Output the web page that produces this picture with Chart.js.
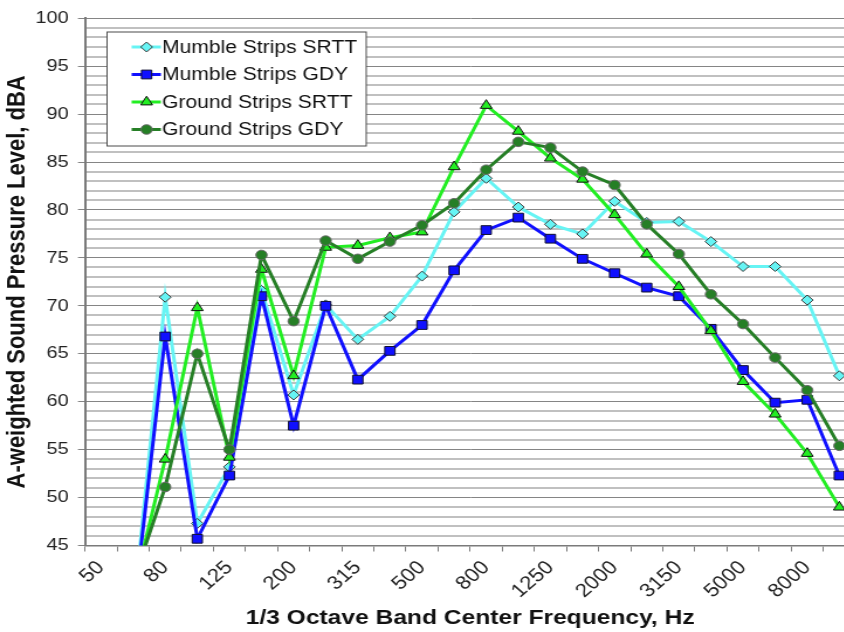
<!DOCTYPE html>
<html><head><meta charset="utf-8">
<script src="https://cdn.jsdelivr.net/npm/chart.js@4/dist/chart.umd.min.js"></script>
<style>
html,body{margin:0;padding:0;background:#fff;overflow:hidden;}
#wrap{width:844px;height:632px;overflow:hidden;position:relative;background:#fff;}
#c{display:block;transform:scaleX(1.17);transform-origin:0 0;}
</style></head><body>
<div id="wrap"><canvas id="c" width="740" height="632"></canvas></div>
<script>
// 1/3 octave band centre frequencies (Hz)
const frequencies = ['50','63','80','100','125','160','200','250','315','400','500','630','800','1000','1250','1600','2000','2500','3150','4000','5000','6300','8000','10000'];
// A-weighted sound pressure level, dBA
const mumbleSRTT = [null, 37.8, 70.9, 47.3, 53.2, 71.6, 60.7, 70.1, 66.5, 68.9, 73.1, 79.8, 83.3, 80.3, 78.5, 77.5, 80.9, 78.7, 78.8, 76.7, 74.1, 74.1, 70.6, 62.7];
const mumbleGDY  = [null, 37.7, 66.8, 45.7, 52.3, 71.0, 57.5, 70.0, 62.3, 65.3, 68.0, 73.7, 77.9, 79.2, 77.0, 74.9, 73.4, 71.9, 71.0, 67.6, 63.3, 59.9, 60.2, 52.3];
const groundSRTT = [null, 40.2, 54.0, 69.8, 54.2, 73.8, 62.7, 76.1, 76.3, 77.1, 77.7, 84.5, 90.9, 88.2, 85.4, 83.2, 79.5, 75.4, 72.0, 67.4, 62.1, 58.7, 54.6, 49.0];
const groundGDY  = [null, 41.2, 51.1, 65.0, 55.0, 75.3, 68.4, 76.8, 74.9, 76.7, 78.4, 80.7, 84.2, 87.1, 86.5, 84.0, 82.6, 78.5, 75.4, 71.2, 68.1, 64.6, 61.2, 55.4];
const seriesNames = ['Mumble Strips SRTT','Mumble Strips GDY','Ground Strips SRTT','Ground Strips GDY'];
const yMin = 45, yMax = 100, yMajor = 5;

const FONT = "'Liberation Sans', Arial, sans-serif";
const styles = [
  {line:'#66F4F4', fill:'#66F4F4', stroke:'#3a3a3a', point:'rectRot', r:5},
  {line:'#1010FF', fill:'#1010FF', stroke:'#101030', point:'rect', r:6.2},
  {line:'#22EE22', fill:'#22EE22', stroke:'#111111', point:'triangle', r:5.8},
  {line:'#267F26', fill:'#267F26', stroke:'#6a6a6a', point:'circle', r:4.8}
];
const seriesData = [mumbleSRTT, mumbleGDY, groundSRTT, groundGDY];

function drawMarker(ctx, st, x, y){
  const r = st.r;
  ctx.beginPath();
  if (st.point === 'rectRot'){
    ctx.moveTo(x - r, y); ctx.lineTo(x, y - r); ctx.lineTo(x + r, y); ctx.lineTo(x, y + r); ctx.closePath();
  } else if (st.point === 'rect'){
    const s = r * Math.SQRT1_2; ctx.rect(x - s, y - s, 2*s, 2*s);
  } else if (st.point === 'triangle'){
    ctx.moveTo(x, y - r); ctx.lineTo(x + 0.866*r, y + 0.5*r); ctx.lineTo(x - 0.866*r, y + 0.5*r); ctx.closePath();
  } else {
    ctx.arc(x, y, r, 0, Math.PI*2);
  }
  ctx.fillStyle = st.fill; ctx.fill();
  ctx.lineWidth = 1; ctx.strokeStyle = st.stroke; ctx.stroke();
}

const legendPlugin = {
  id: 'boxLegend',
  afterDraw(chart){
    const ctx = chart.ctx;
    ctx.save();
    const bx = 91.5, by = 32, bw = 221.5, bh = 114;
    ctx.fillStyle = '#fff';
    ctx.fillRect(bx, by, bw, bh);
    ctx.strokeStyle = '#4a4a4a'; ctx.lineWidth = 1;
    ctx.strokeRect(bx, by, bw, bh);
    const rows = [47, 74.5, 102, 129.5];
    ctx.font = '18px ' + FONT;
    ctx.textBaseline = 'middle'; ctx.textAlign = 'left';
    seriesNames.forEach((name, i) => {
      const st = styles[i], y = rows[i];
      ctx.beginPath(); ctx.moveTo(112.5, y); ctx.lineTo(137.5, y);
      ctx.strokeStyle = st.line; ctx.lineWidth = 3; ctx.stroke();
      drawMarker(ctx, st, 125.3, y);
      ctx.fillStyle = '#111';
      ctx.fillText(name, 138.5, y + 1);
    });
    ctx.restore();
  }
};

const datasets = seriesData.map((d, i) => ({
  label: seriesNames[i],
  data: d,
  borderColor: styles[i].line,
  backgroundColor: styles[i].fill,
  pointBackgroundColor: styles[i].fill,
  pointBorderColor: styles[i].stroke,
  pointBorderWidth: 1,
  pointStyle: styles[i].point,
  pointRadius: styles[i].r,
  borderWidth: 3,
  tension: 0,
  spanGaps: false,
  order: 4 - i,
  clip: {left: 0, top: 0, right: 20, bottom: 0}
}));

new Chart(document.getElementById('c'), {
  type: 'line',
  data: { labels: frequencies, datasets },
  plugins: [legendPlugin],
  options: {
    responsive: false,
    animation: false,
    events: [],
    layout: { padding: { top: 16, left: 0, right: 8.9, bottom: 0 } },
    plugins: { legend: { display: false }, tooltip: { enabled: false } },
    scales: {
      x: {
        type: 'category',
        offset: true,
        afterFit(scale){ scale.height = 86.5; },
        grid: { offset: true, drawOnChartArea: false, drawTicks: true, tickLength: 6, color: '#7a7a7a', lineWidth: 1 },
        border: { display: true, color: '#7a7a7a', width: 1.5 },
        ticks: {
          autoSkip: false, minRotation: 45, maxRotation: 45, padding: 5,
          color: '#222', font: { family: FONT, size: 19 },
          callback(v, i){ return i % 2 === 0 ? this.getLabelForValue(v) : ''; }
        },
        title: { display: true, text: '1/3 Octave Band Center Frequency, Hz', color: '#111',
                 font: { family: FONT, size: 21, weight: 'bold' }, padding: { top: 0, bottom: 1 } }
      },
      y: {
        min: yMin, max: yMax,
        afterFit(scale){ scale.width = 72.6; },
        grid: {
          color: c => (c.tick && c.tick.value % yMajor === 0) ? '#858585' : '#c0c0c0',
          lineWidth: c => (c.tick && c.tick.value % yMajor === 0) ? 1 : 2,
          tickColor: c => (c.tick && c.tick.value % yMajor === 0) ? '#858585' : 'rgba(0,0,0,0)',
          tickLength: 6, drawTicks: true
        },
        border: { display: true, color: '#7a7a7a', width: 2 },
        ticks: {
          stepSize: 1, autoSkip: false, padding: 8,
          color: '#222', font: { family: FONT, size: 17 },
          callback: v => (v % yMajor === 0 ? String(v) : '')
        },
        title: { display: true, text: 'A-weighted Sound Pressure Level, dBA', color: '#111',
                 font: { family: FONT, size: 22, weight: 'bold' }, padding: { top: 2, bottom: 0 } }
      }
    }
  }
});
</script>
</body></html>
